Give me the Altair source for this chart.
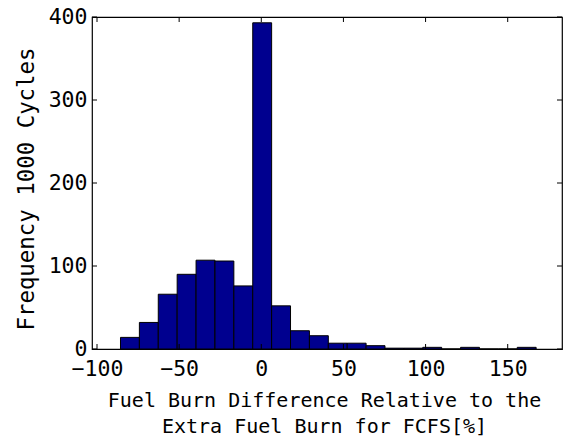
import altair as alt
import pandas as pd

# Histogram bins (percent) and counts
bin_lo = [-85.7, -74.2, -62.7, -51.2, -39.7, -28.2, -16.7, -5.2, 6.3, 17.8, 29.3,
          40.8, 52.3, 63.8, 75.3, 86.8, 98.3, 109.8, 121.3, 132.8, 144.3, 155.8]
bin_hi = [-74.2, -62.7, -51.2, -39.7, -28.2, -16.7, -5.2, 6.3, 17.8, 29.3, 40.8,
          52.3, 63.8, 75.3, 86.8, 98.3, 109.8, 121.3, 132.8, 144.3, 155.8, 167.3]
counts = [14, 32, 66, 90, 107, 106, 76, 393, 52, 22, 16,
          7, 7, 4, 1, 1, 2, 0, 2, 0, 0, 2]

x_ticks = [-100, -50, 0, 50, 100, 150]
y_ticks = [0, 100, 200, 300, 400]

x_title = ["Fuel Burn Difference Relative to the", "Extra Fuel Burn for FCFS[%]"]
y_title = "Frequency 1000 Cycles"

W, H = 470, 332
FONT = "DejaVu Sans Mono"

df = pd.DataFrame({"lo": bin_lo, "hi": bin_hi, "count": counts})
xt = pd.DataFrame({"t": x_ticks})
yt = pd.DataFrame({"t": y_ticks})

xscale = alt.Scale(domain=[-100, 180], nice=False, zero=False)
yscale = alt.Scale(domain=[0, 400], nice=False)

bars = alt.Chart(df).mark_bar(color="#00008F", stroke="black", strokeWidth=1,
                              orient="vertical").encode(
    x=alt.X("lo:Q", scale=xscale, title=x_title,
            axis=alt.Axis(values=x_ticks, ticks=False, tickSize=0, domain=False, grid=False,
                          labelFont=FONT, labelFontSize=21.5, labelColor="black", labelPadding=9,
                          titleFont=FONT, titleFontSize=20, titleFontWeight="normal",
                          titleColor="black", titleBaseline="alphabetic", titleY=57,
                          titleX=232, titleLineHeight=26.5)),
    x2="hi:Q",
    y=alt.Y("count:Q", scale=yscale, title=y_title,
            axis=alt.Axis(values=y_ticks, ticks=False, tickSize=0, domain=False, grid=False,
                          labelFont=FONT, labelFontSize=21.5, labelColor="black", labelPadding=5,
                          titleFont=FONT, titleFontSize=22.4, titleFontWeight="normal",
                          titleColor="black", titleBaseline="alphabetic", titleX=-59,
                          titleY=171.5)),
    y2=alt.datum(0),
)

xt_bottom = alt.Chart(xt).mark_rule(color="black", strokeWidth=1).encode(
    x=alt.X("t:Q", scale=xscale), y=alt.value(H), y2=alt.value(H - 5))
xt_top = alt.Chart(xt).mark_rule(color="black", strokeWidth=1).encode(
    x=alt.X("t:Q", scale=xscale), y=alt.value(0), y2=alt.value(5))
yt_left = alt.Chart(yt).mark_rule(color="black", strokeWidth=1).encode(
    y=alt.Y("t:Q", scale=yscale), x=alt.value(0), x2=alt.value(5))
yt_right = alt.Chart(yt).mark_rule(color="black", strokeWidth=1).encode(
    y=alt.Y("t:Q", scale=yscale), x=alt.value(W), x2=alt.value(W - 5))

chart = alt.layer(bars, xt_bottom, xt_top, yt_left, yt_right).properties(
    width=W, height=H,
    autosize=alt.AutoSizeParams(type="none"),
    padding={"left": 92, "top": 17, "right": 4, "bottom": 90},
    background="white",
).configure_view(stroke="black", strokeWidth=1.2)

chart.save("out.html", embed_options={"renderer": "svg", "actions": False})
